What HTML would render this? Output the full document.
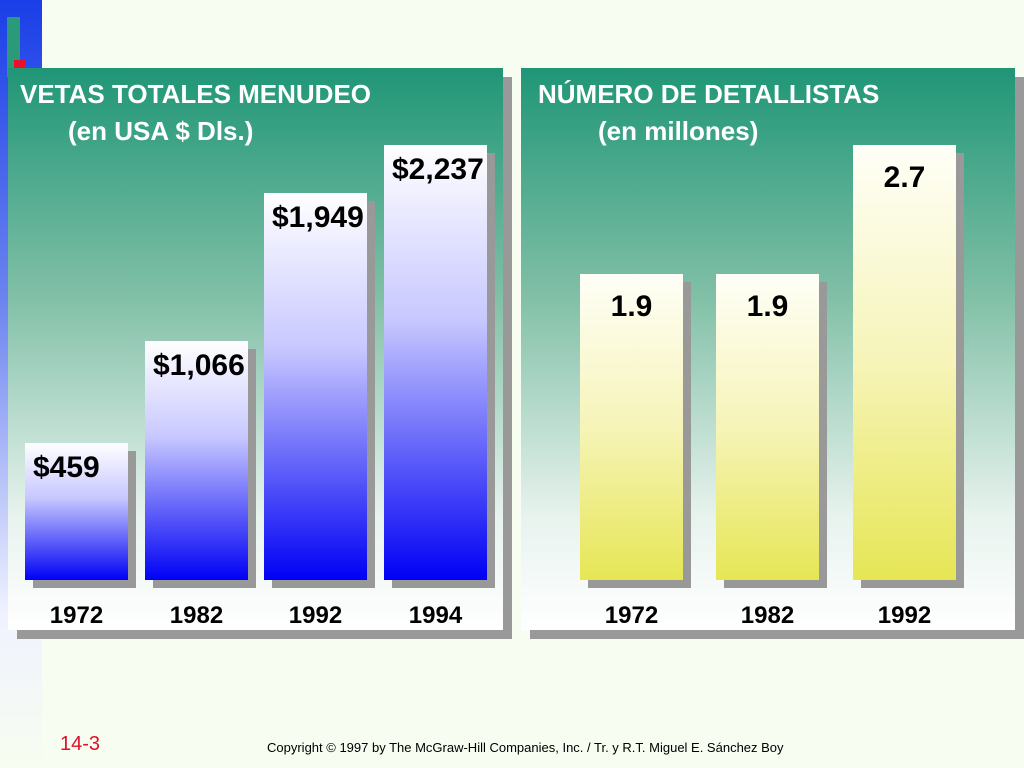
<!DOCTYPE html>
<html><head><meta charset="utf-8"><style>
body{margin:0;width:1024px;height:768px;background:#f7fdf0;position:relative;overflow:hidden;font-family:"Liberation Sans",sans-serif}
.abs{position:absolute}
.panel{position:absolute;top:68px;height:562px;background:linear-gradient(#1f9676 0%,#7fbfa6 40%,#e8f3ee 80%,#fff 100%);box-shadow:9px 9px 0 #999}
.ttl{position:absolute;color:#fff;font-weight:bold;font-size:26px;line-height:37px;white-space:nowrap}
.bar{position:absolute;width:103px;box-shadow:8px 8px 0 #999}
.val{position:absolute;font-weight:bold;font-size:30px;color:#000;white-space:nowrap}
.yr{position:absolute;font-weight:bold;font-size:24px;top:602px;width:103px;text-align:center}
</style></head><body>
<div class="abs" style="left:0;top:0;width:42px;height:768px;background:linear-gradient(#1a3ee8 0%,#6e86f0 40%,#f0f2ff 80%,#f7fdf0 100%)"></div>
<div class="abs" style="left:7px;top:17px;width:13px;height:60px;background:#2a9a78"></div>
<div class="abs" style="left:14px;top:60px;width:11px;height:8px;background:#e8102a"></div>

<div class="panel" style="left:8px;width:495px">
<div class="ttl" style="left:12px;top:8px">VETAS TOTALES MENUDEO<br><span style="padding-left:48px">(en USA $ Dls.)</span></div>
</div>
<div class="panel" style="left:521px;width:494px">
<div class="ttl" style="left:17px;top:8px">NÚMERO DE DETALLISTAS<br><span style="padding-left:60px">(en millones)</span></div>
</div>
<div id="bars"></div>

<div class="abs" style="left:60px;top:733px;color:#e0102a;font-size:20px">14-3</div>
<div class="abs" style="left:267px;top:740px;font-size:13px;color:#000">Copyright © 1997 by The McGraw-Hill Companies, Inc. / Tr. y R.T. Miguel E. Sánchez Boy</div>

<script>
const salesYears=["1972","1982","1992","1994"];
const salesValues=[459,1066,1949,2237];
const salesLabels=["$459","$1,066","$1,949","$2,237"];
const retYears=["1972","1982","1992"];
const retValues=[1.9,1.9,2.7];
const retLabels=["1.9","1.9","2.7"];
const base=580;
function hSales(v){return 60+v*0.1676;}
function hRet(v){return v*(435/2.7);}
const root=document.getElementById('bars');
function draw(years,vals,labels,xs,hf,grad,prefix,valOffset,center){
 years.forEach((y,i)=>{
  const h=hf(vals[i]);
  const b=document.createElement('div');
  b.className='bar';
  
  
  b.style.left=xs[i]+'px';b.style.top=(base-h)+'px';b.style.height=h+'px';b.style.background=grad;
  root.appendChild(b);
  const t=document.createElement('div');
  t.className='val';
  
  
  t.textContent=labels[i];
  t.style.top=(base-h+valOffset)+'px';
  if(center){t.style.left=xs[i]+'px';t.style.width='103px';t.style.textAlign='center';}
  else t.style.left=(xs[i]+8)+'px';
  root.appendChild(t);
  const yl=document.createElement('div');
  yl.className='yr';
  
  
  yl.textContent=y;yl.style.left=xs[i]+'px';
  root.appendChild(yl);
 });
}
draw(salesYears,salesValues,salesLabels,[25,145,264,384],hSales,'linear-gradient(#fff,#c8c8ff 40%,#0000f5)','sales',8,false);
draw(retYears,retValues,retLabels,[580,716,853],hRet,'linear-gradient(#fffff8,#f6f4b8 50%,#e6e655)','retailers',16,true);
</script>
</body></html>
